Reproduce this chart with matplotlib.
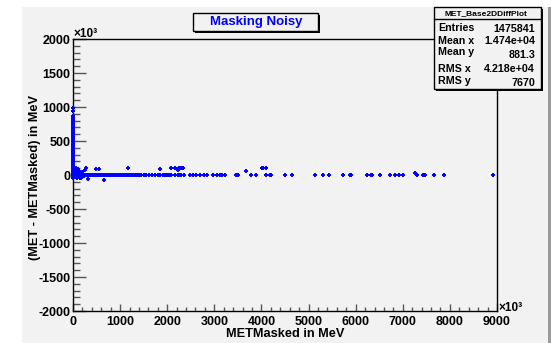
import matplotlib.pyplot as plt
from matplotlib.patches import Rectangle
from matplotlib.lines import Line2D
from matplotlib.ticker import MultipleLocator

# --- data (x in units of 10^3 MeV, y in units of 10^3 MeV) ---
# vertical band of points close to METMasked = 0
spike_x = [4, 6, 3, 5, 7, 2, 5, 6, 4, 3, 5, 7, 6, 4, 5, 3, 6, 5, 4, 7, 5, 3, 6,
           4, 5, 6, 3, 5, 4, 6, 5, 7, 4, 5, 6, 3, 5, 4, 6, 5, 4, 6, 5, 4, 5]
spike_y = [-40, -20, 20, 40, 60, 80, 100, 120, 140, 160, 180, 200, 220, 240,
           260, 280, 300, 320, 340, 360, 380, 400, 420, 440, 460, 480, 500, 520,
           540, 560, 580, 600, 620, 650, 675, 700, 720, 745, 770, 795, 820, 845,
           870, 935, 985]

# small cloud near the origin
cluster_x = [30, 60, 90, 120, 150, 200, 230, 180, 110, 250, 60, 40, 80, 140, 100, 170, 270, 318]
cluster_y = [80, 50, 30, 60, -50, 40, -20, -45, 90, 70, 100, -30, -40, 20, -35, 15, 100, -60]

# dense band along zero
band_x = [0, 40, 80, 120, 160, 200, 240, 280, 320, 360, 400, 440, 480, 520, 560,
          600, 640, 680, 720, 760, 800, 840, 880, 920, 960, 1000, 1040, 1080,
          1120, 1160, 1200, 1240, 1280, 1320, 1360, 1400, 1440]
band_y = [5, -4, 3, -2, 6, -5, 2, 4, -3, 1, -2, 3, 5, -4, 2, -1, 3, -3, 4, 1,
          -2, 2, -4, 3, 0, -2, 4, -3, 2, 1, -1, 3, -2, 2, 0, -3, 1]

# sparse tail along zero
tail_x = [1500, 1560, 1620, 1680, 1740, 1800, 1850, 1900, 1950, 2000,
          2040, 2090, 2170, 2220, 2260, 2300, 2350, 2480, 2550, 2620,
          2700, 2780, 2850, 2970, 3050, 3110, 3160, 3220, 3460, 3500,
          3787, 3878, 4090, 4175, 4203, 4500, 4649, 5131, 5307, 5434,
          5731, 5888, 5901, 6241, 6334, 6347, 6510, 6729, 6843, 6920,
          7005, 7268, 7302, 7429, 7472, 7656, 7875, 8915]
tail_y = [2, -3, 4, 0, -2, 3, 1, -4, 2, 0,
          3, -2, 1, 4, -3, 2, 0, -1, 3, -2,
          2, 1, -3, 0, 4, -2, 1, 3, -1, 2,
          0, 3, -2, 1, 4, -3, 0, 2, -1, 3,
          1, -2, 4, 0, 2, -3, 1, 3, -1, 0,
          2, 30, 2, -2, 1, 3, 0, 2]

# points off the zero line
out_x = [480, 550, 660, 1170, 1840, 2090, 2160, 2200, 2230, 2260, 2300, 2335, 3680, 4005, 4033, 4090]
out_y = [90, 90, -70, 100, 95, 100, 110, 90, 80, 100, 105, 100, 55, 110, 105, 100]

stats_names = ["Entries", "Mean x", "Mean y", "RMS x", "RMS y"]
stats_values = ["1475841", "1.474e+04", "881.3", "4.218e+04", "7670"]

plt.rcParams['font.family'] = 'Liberation Sans'
plt.rcParams['font.weight'] = 'bold'
plt.rcParams['axes.unicode_minus'] = False

W, H = 551, 343
def fx(px):
    return px / W
def fy(py):
    return 1 - py / H
def fig_rect(x0, y0, x1, y1, **kw):
    # rectangle given in pixel coords measured from the top-left corner
    r = Rectangle((fx(x0), fy(y1)), fx(x1) - fx(x0), fy(y0) - fy(y1),
                  transform=fig.transFigure, **kw)
    fig.add_artist(r)
    return r

fig = plt.figure(figsize=(5.51, 3.43), dpi=100)
fig.patch.set_facecolor('white')

# canvas background
fig_rect(22, 7, 548, 343, facecolor='#f2f2f2', edgecolor='none', zorder=-2)
fig_rect(548, 7, 551, 343, facecolor='#9a9a9a', edgecolor='none', zorder=-2)

ax = fig.add_axes([fx(73), fy(311), fx(497) - fx(73), fy(39) - fy(311)])
ax.set_facecolor('#f2f2f2')

all_x = spike_x + cluster_x + band_x + tail_x + out_x
all_y = spike_y + cluster_y + band_y + tail_y + out_y
ax.plot(all_x, all_y, '+', color='blue', ms=3, mew=1.4, clip_on=False, zorder=3)

ax.set_xlim(0, 9000)
ax.set_ylim(-2000, 2000)
ax.xaxis.set_major_locator(MultipleLocator(1000))
ax.xaxis.set_minor_locator(MultipleLocator(200))
ax.yaxis.set_major_locator(MultipleLocator(500))
ax.yaxis.set_minor_locator(MultipleLocator(100))
ax.tick_params(axis='y', which='major', direction='in', length=9, width=1, color='#555555', pad=2, labelsize=9)
ax.tick_params(axis='y', which='minor', direction='in', length=4.8, width=1, color='#555555')
ax.tick_params(axis='x', which='major', direction='in', length=5.3, width=1, color='#555555', pad=3.5, labelsize=9)
ax.tick_params(axis='x', which='minor', direction='in', length=2.9, width=1, color='#555555')
for s in ax.spines.values():
    s.set_color('black')
    s.set_linewidth(1)

fig.text(fx(73), fy(37), '×10³', fontsize=8.5, ha='left', va='baseline')
fig.text(fx(498), fy(311), '×10³', fontsize=8.5, ha='left', va='baseline')

fig.text(fx(285), fy(334), 'METMasked in MeV', fontsize=9.2, ha='center', va='center')
fig.text(fx(35), fy(177), '(MET - METMasked) in MeV', fontsize=9.2, ha='center', va='center', rotation=90)

# title box
fig_rect(195, 15, 320, 33, facecolor='black', edgecolor='none', zorder=5)
fig_rect(193, 13, 318, 31, facecolor='#f2f2f2', edgecolor='black', lw=1, zorder=5)
fig.text(fx(256), fy(22.5), 'Masking Noisy', fontsize=9.5, color='blue', ha='center', va='center', zorder=6)

# stats box
fig_rect(436, 9, 543, 91, facecolor='black', edgecolor='none', zorder=5)
fig_rect(434, 7, 541, 89, facecolor='#f2f2f2', edgecolor='black', lw=1, zorder=5)
fig.add_artist(Line2D([fx(434), fx(541)], [fy(19), fy(19)], transform=fig.transFigure,
                      color='black', lw=1, zorder=6))
fig.text(fx(486), fy(13.5), 'MET_Base2DDiffPlot', fontsize=6, ha='center', va='center', zorder=6)
name_y = [28, 41.5, 52, 69, 81]
value_y = [28.5, 41.5, 54.5, 69, 83]
for name, val, ny, vy in zip(stats_names, stats_values, name_y, value_y):
    fig.text(fx(438), fy(ny), name, fontsize=7.7, ha='left', va='center', zorder=6)
    fig.text(fx(535), fy(vy), val, fontsize=7.7, ha='right', va='center', zorder=6)

fig.savefig('out.png', dpi=100)
